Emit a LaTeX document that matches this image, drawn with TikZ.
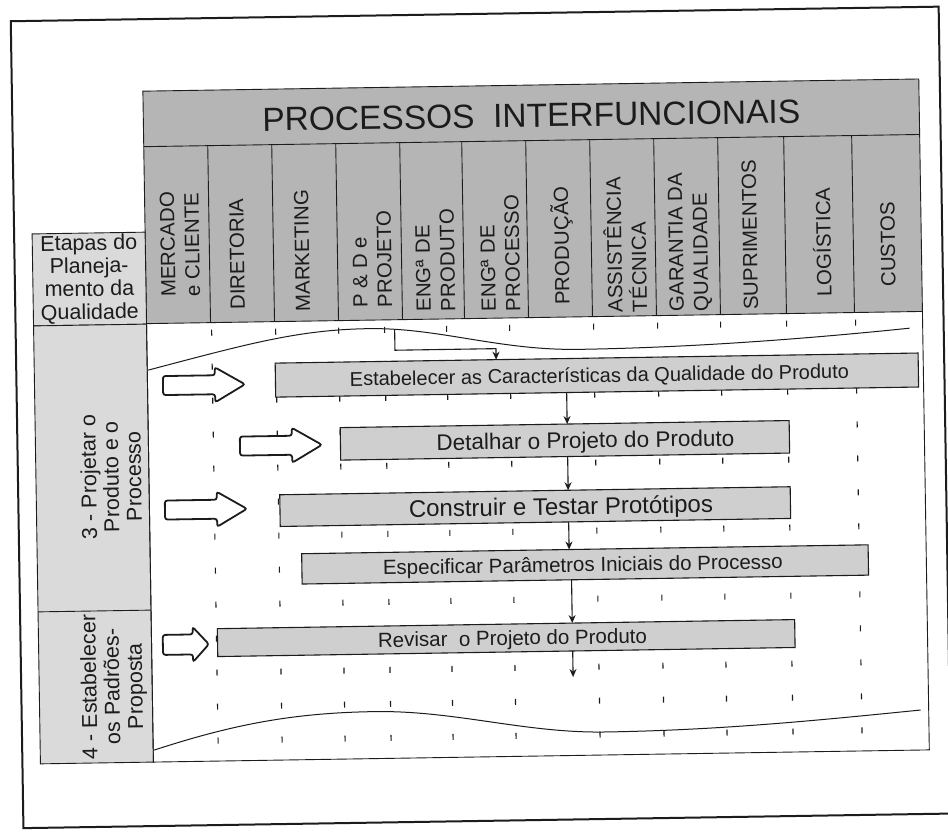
\documentclass[tikz,border=0pt]{standalone}
\usepackage{fontspec}
\setmainfont{Liberation Sans}
\usetikzlibrary{arrows.meta,calc}

\definecolor{ink}{HTML}{1C1C1C}
\definecolor{headfill}{HTML}{B5B5B5}
\definecolor{stagefill}{HTML}{DADADA}
\definecolor{barfill}{HTML}{CFCFCF}

\newcommand{\setfs}[2]{\fontsize{#1}{#2}\selectfont}

\begin{document}
\begin{tikzpicture}[x=1pt, y=-1pt,
  pageframe/.style={draw=ink, line width=2pt},
  rule/.style={draw=ink, line width=0.9pt},
  tickmark/.style={draw=ink, line width=1.1pt},
  bar/.style={draw=ink, line width=1.1pt, fill=barfill, inner sep=0pt, outer sep=0pt},
  bartext/.style={anchor=base, inner sep=0pt, text=ink},
  collabel/.style={rotate=90, anchor=west, align=left, inner sep=0pt, text=ink, font=\setfs{20.5}{24.5}},
  stagelabel/.style={rotate=90, align=center, inner sep=0pt, text=ink},
  blockarrow/.style={draw=ink, line width=1.8pt, fill=white, rounded corners=2.5pt},
  flow/.style={draw=ink, line width=1.1pt, -{Stealth[length=8pt, width=7pt]}},
  wave/.style={draw=ink, line width=1pt}]

\useasboundingbox (0,0) rectangle (948,831);
\fill[white] (0,0) rectangle (948,831);

\begin{scope}[rotate around={0.9:(474,415)}, transform shape]
  % page frame
  \draw[pageframe] (17,14) rectangle (945,821);

  % header block with the functional columns
  \draw[rule, fill=headfill] (148,86) rectangle (924,318.5);
  \draw[rule] (148,141.5) -- (924,141.5);
  \foreach \cx in {212,276,340,404,466,530,594,658,722,788,856}
    \draw[rule] (\cx,141.5) -- (\cx,318.5);
  \node[anchor=base, inner sep=0pt, text=ink, font=\setfs{33.5}{40}] (title) at (536,128) {PROCESSOS\ \ INTERFUNCIONAIS};

  \node[collabel] (c1)  at (182.6,292.3) {MERCADO\\e CLIENTE};
  \node[collabel] (c2)  at (239.6,306.2) {DIRETORIA};
  \node[collabel] (c3)  at (304.6,309.2) {MARKETING};
  \node[collabel] (c4)  at (374.6,306)   {P \& D e\\PROJETO};
  \node[collabel] (c5)  at (437.6,311)   {ENGª DE\\PRODUTO};
  \node[collabel] (c6)  at (502.6,312)   {ENGª DE\\PROCESSO};
  \node[collabel] (c7)  at (564.6,306.4) {PRODUÇÃO};
  \node[collabel] (c8)  at (627.6,315)   {ASSISTÊNCIA\\TÉCNICA};
  \node[collabel] (c9)  at (692.6,315)   {GARANTIA DA\\QUALIDADE};
  \node[collabel] (c10) at (752.6,314.4) {SUPRIMENTOS};
  \node[collabel] (c11) at (824.6,302.6) {LOGÍSTICA};
  \node[collabel] (c12) at (890.6,293.6) {CUSTOS};

  % stage column
  \node[draw=ink, line width=0.9pt, fill=stagefill, minimum width=113pt, minimum height=92pt,
        align=center, inner sep=0pt, text=ink, font=\setfs{21.5}{23}] (etapas) at (91.5,273)
        {Etapas do\\Planeja-\\mento da\\Qualidade};
  \draw[rule, fill=stagefill] (35,319) rectangle (148,757);
  \draw[rule] (35,605) -- (148,605);
  \node[stagelabel, font=\setfs{21.5}{22.5}] (s3) at (110,471) {3 - Projetar o\\Produto e o\\Processo};
  \node[stagelabel, font=\setfs{21.5}{23}] (s4) at (109.6,681) {4 - Estabelecer\\os Padrões-\\Proposta};

  % body frame
  \draw[rule] (148,318.5) -- (148,757) -- (924,757) -- (924,318.5);

  % dashed column guides
  \foreach \tx in {213,277,340,386,448,511,595,659,722,788,857}
    \foreach \k in {0,...,12}
      \draw[tickmark] (\tx,{325.5+34*\k}) -- ++(0,6);

  % break lines
  \draw[wave] (149,365) .. controls (250,340) and (300,327) .. (370,327)
              .. controls (440,327) and (500,351) .. (580,351)
              .. controls (700,351) and (820,343) .. (911,335);
  \draw[wave] (149,745) .. controls (230,720) and (290,710) .. (370,710)
              .. controls (450,710) and (520,734) .. (600,734)
              .. controls (720,734) and (820,725) .. (916,717);

  % entry arrows
  \draw[blockarrow, shift={(163.5,380.7)}] (0,-9.5) -- (52,-9.5) -- (52,-17.5) -- (82,0) -- (52,17.5) -- (52,9.5) -- (0,9.5) -- cycle;
  \draw[blockarrow, shift={(239.5,442.4)}] (0,-9.5) -- (52,-9.5) -- (52,-17.5) -- (82,0) -- (52,17.5) -- (52,9.5) -- (0,9.5) -- cycle;
  \draw[blockarrow, shift={(163.5,505.2)}] (0,-9.5) -- (52,-9.5) -- (52,-17.5) -- (82,0) -- (52,17.5) -- (52,9.5) -- (0,9.5) -- cycle;
  \draw[blockarrow, shift={(159.3,640)}]   (0,-10) -- (30,-10) -- (30,-17.5) -- (46,0) -- (30,17.5) -- (30,10) -- (0,10) -- cycle;

  % activity bars
  \node[bar, minimum width=643pt,   minimum height=34pt]   (b1) at (597.5,377) {};
  \node[bar, minimum width=449pt,   minimum height=32.5pt] (b2) at (564.5,441.75) {};
  \node[bar, minimum width=510.5pt, minimum height=31.7pt] (b3) at (533.75,507.55) {};
  \node[bar, minimum width=566.5pt, minimum height=30.3pt] (b4) at (582.75,566.15) {};
  \node[bar, minimum width=577.4pt, minimum height=27.9pt] (b5) at (502.7,638.55) {};

  \node[bartext, font=\setfs{20}{24}]   (t1) at (600,384.2)   {Estabelecer as Características da Qualidade do Produto};
  \node[bartext, font=\setfs{22.5}{26}] (t2) at (585,449.9)   {Detalhar o Projeto do Produto};
  \node[bartext, font=\setfs{24}{28}]   (t3) at (559.5,516.1) {Construir e Testar Protótipos};
  \node[bartext, font=\setfs{20.5}{24}] (t4) at (580.5,573.5) {Especificar Parâmetros Iniciais do Processo};
  \node[bartext, font=\setfs{20.5}{24}] (t5) at (509,645.8)   {Revisar\ \ o Projeto do Produto};

  % flow connectors
  \coordinate (e0) at (396,328);
  \coordinate (ec) at (396,349);
  \coordinate (e1) at (497,349);
  \draw[flow] (e0) -- (ec) -- (e1) -- ($(b1.north west)!0.3437!(b1.north east)$);
  \draw[flow] ($(b1.south west)!0.4526!(b1.south east)$) -- ($(b2.north west)!0.5056!(b2.north east)$);
  \draw[flow] ($(b2.south west)!0.5056!(b2.south east)$) -- ($(b3.north west)!0.5651!(b3.north east)$);
  \draw[flow] ($(b3.south west)!0.5651!(b3.south east)$) -- ($(b4.north west)!0.4722!(b4.north east)$);
  \draw[flow] ($(b4.south west)!0.4757!(b4.south east)$) -- ($(b5.north west)!0.6148!(b5.north east)$);
  \coordinate (fend) at (569,678.6);
  \draw[flow] ($(b5.south west)!0.6148!(b5.south east)$) -- (fend);
\end{scope}
\end{tikzpicture}
\end{document}
